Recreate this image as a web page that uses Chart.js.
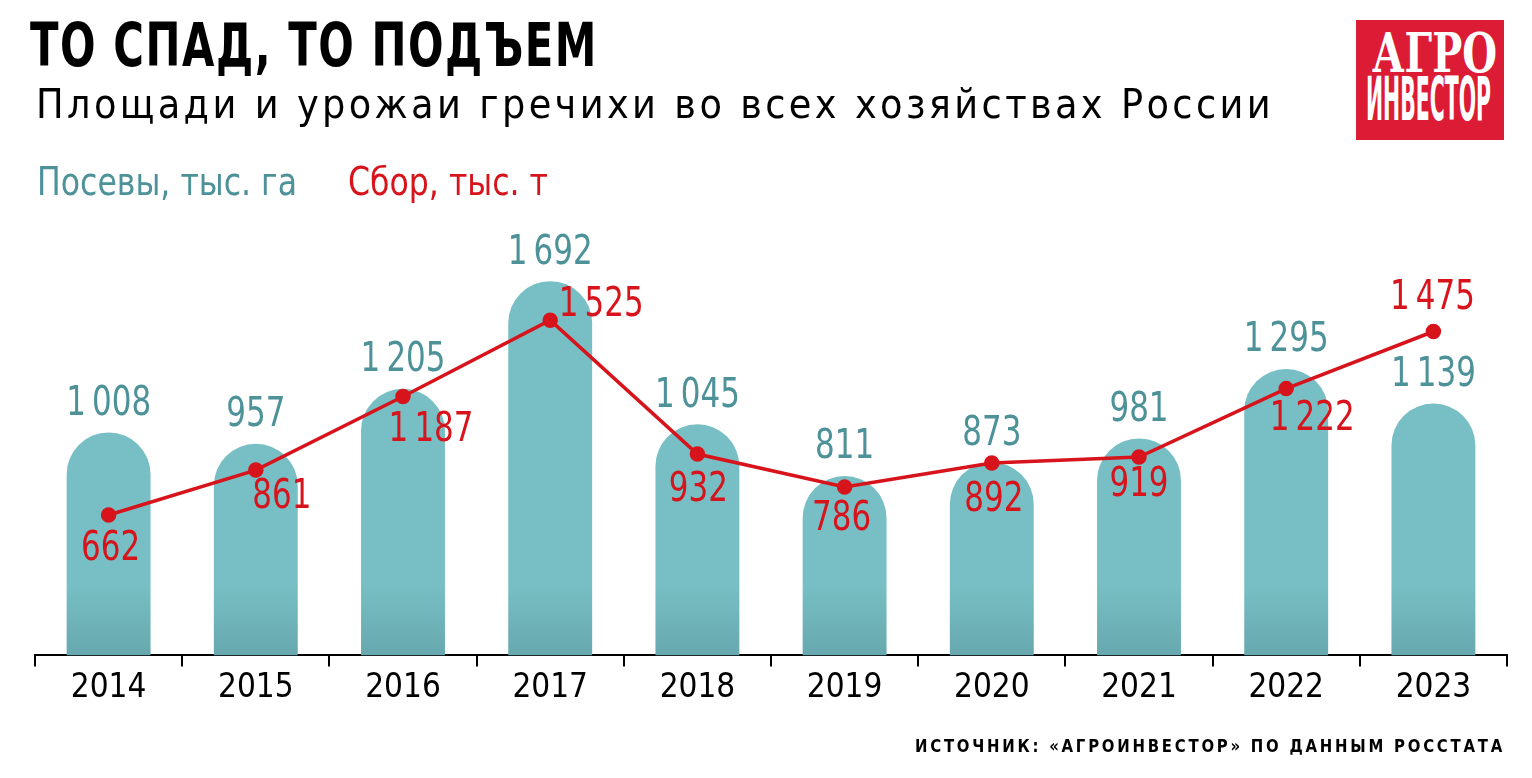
<!DOCTYPE html>
<html lang="ru">
<head>
<meta charset="utf-8">
<script src="https://cdn.jsdelivr.net/npm/chart.js@4"></script>
<style>
  html, body { margin: 0; padding: 0; background: #fff; }
  body { width: 1532px; height: 778px; position: relative; overflow: hidden; font-family: "DejaVu Sans Condensed", "DejaVu Sans", sans-serif; }
  #wrap { position: absolute; left: 0; top: 0; width: 1532px; height: 778px; }
  .txt { position: absolute; white-space: nowrap; transform-origin: 0 0; }
  #title { left: 30px; top: 10px; font-size: 60px; font-weight: bold; letter-spacing: 2px; color: #000; }
  #subtitle { left: 36px; top: 81px; font-size: 40px; letter-spacing: 3.3px; color: #000; }
  #leg1 { left: 37px; top: 159px; font-size: 39px; color: #4d9199; }
  #leg2 { left: 348px; top: 159px; font-size: 39px; color: #d7141c; }
  #source { left: 915px; top: 735px; font-size: 18px; font-weight: bold; letter-spacing: 3px; color: #000; }
  #logo { position: absolute; left: 1356px; top: 20px; width: 148px; height: 120px; background: #dc1c34; color: #fff; }
  #logo .a { top: 1px; left: 16px; font-family: "DejaVu Serif", serif; font-weight: bold; font-size: 54px; }
  #logo .b { top: 44px; left: 10px; font-size: 60px; font-weight: bold; line-height: 70px; }
</style>
</head>
<body>
<div id="wrap"><canvas id="chart" width="1532" height="778"></canvas></div>
<div class="txt" id="title" data-w="568">ТО СПАД, ТО ПОДЪЕМ</div>
<div class="txt" id="subtitle" data-w="1238">Площади и урожаи гречихи во всех хозяйствах России</div>
<div class="txt" id="leg1" data-w="260">Посевы, тыс. га</div>
<div class="txt" id="leg2" data-w="200">Сбор, тыс. т</div>
<div id="logo"><div class="txt a" data-w="125">АГРО</div><div class="txt b" data-w="125">ИНВЕСТОР</div></div>
<div class="txt" id="source" data-w="590">ИСТОЧНИК: «АГРОИНВЕСТОР» ПО ДАННЫМ РОССТАТА</div>
<script>
// данные
const years = ['2014', '2015', '2016', '2017', '2018', '2019', '2020', '2021', '2022', '2023'];
const sown = [1008, 957, 1205, 1692, 1045, 811, 873, 981, 1295, 1139];   // посевы, тыс. га
const harvest = [662, 861, 1187, 1525, 932, 786, 892, 919, 1222, 1475]; // сбор, тыс. т

// где подписывать сбор относительно точки (dx, dy до центра текста)
const harvestLabelShift = [[2, 35], [26, 28], [28, 34], [51, -15], [1, 37], [-3, 33], [2, 38], [0, 29], [26, 31], [-1, -33]];

const TEAL = '#77bfc4';
const TEAL_TEXT = '#4d9199';
const RED = '#d7141c';
const FONT = '"DejaVu Sans Condensed", "DejaVu Sans", sans-serif';

// узкий шрифт не установлен - сжимаем текст по ширине
document.querySelectorAll('[data-w]').forEach(el => {
    const w = el.getBoundingClientRect().width;
    el.style.transform = 'scaleX(' + (Number(el.dataset.w) / w) + ')';
});

function fmt(v) {
    const s = String(v);
    return s.length > 3 ? s.slice(0, -3) + '\u2009' + s.slice(-3) : s;
}

function barFill(context) {
    const area = context.chart.chartArea;
    if (!area) return TEAL;
    const g = context.chart.ctx.createLinearGradient(0, area.bottom, 0, area.bottom - 70);
    g.addColorStop(0, '#66a8ae');
    g.addColorStop(1, TEAL);
    return g;
}

function narrowText(ctx, text, x, y) {
    ctx.save();
    ctx.translate(x, y);
    ctx.scale(0.86, 1);
    ctx.fillText(text, 0, 0);
    ctx.restore();
}

const valueLabels = {
    id: 'valueLabels',
    afterDatasetsDraw(chart) {
        const ctx = chart.ctx;
        ctx.save();
        ctx.font = '40px ' + FONT;
        ctx.textAlign = 'center';
        ctx.textBaseline = 'middle';
        // подписи столбцов
        chart.getDatasetMeta(0).data.forEach((bar, i) => {
            ctx.fillStyle = TEAL_TEXT;
            narrowText(ctx, fmt(sown[i]), bar.x, bar.y - 28);
        });
        // подписи линии
        chart.getDatasetMeta(1).data.forEach((pt, i) => {
            ctx.fillStyle = RED;
            const s = harvestLabelShift[i];
            narrowText(ctx, fmt(harvest[i]), pt.x + s[0], pt.y + s[1]);
        });
        ctx.restore();
    }
};

const ctx = document.getElementById('chart').getContext('2d');
new Chart(ctx, {
    data: {
        labels: years,
        datasets: [
            {
                type: 'bar',
                data: sown,
                backgroundColor: barFill,
                borderRadius: { topLeft: 60, topRight: 60, bottomLeft: 0, bottomRight: 0 },
                borderSkipped: 'bottom',
                barPercentage: 0.57,
                categoryPercentage: 1,
                order: 2
            },
            {
                type: 'line',
                data: harvest,
                yAxisID: 'y2',
                borderColor: RED,
                backgroundColor: RED,
                borderWidth: 3.5,
                pointRadius: 6,
                pointHoverRadius: 6,
                tension: 0,
                order: 1
            }
        ]
    },
    options: {
        responsive: false,
        animation: false,
        layout: { padding: { left: 35, right: 25, top: 213, bottom: 68 } },
        plugins: { legend: { display: false }, tooltip: { enabled: false } },
        scales: {
            x: {
                offset: true,
                grid: { offset: true, drawOnChartArea: false, drawTicks: true, tickLength: 11, color: '#000', lineWidth: 2 },
                border: { display: true, color: '#000', width: 2 },
                ticks: { color: '#000', font: { size: 33, family: FONT }, padding: 2 }
            },
            y: { display: false, min: 0, max: 2000 },
            y2: { display: false, min: 40, max: 2000 }
        }
    },
    plugins: [valueLabels]
});
</script>
</body>
</html>
